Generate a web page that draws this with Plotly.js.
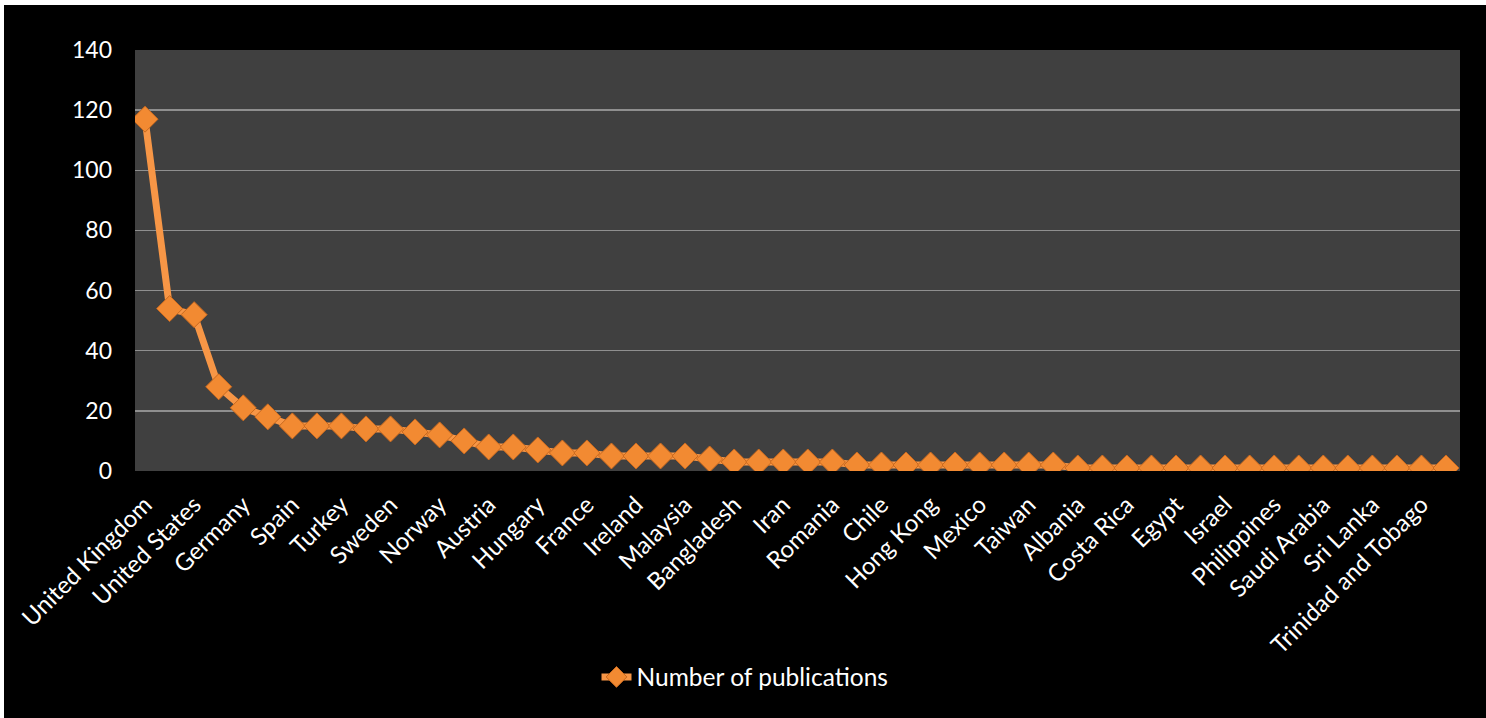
<!DOCTYPE html>
<html>
<head>
<meta charset="utf-8">
<script src="https://cdn.plot.ly/plotly-3.0.1.min.js"></script>
<style>
  html, body { margin: 0; padding: 0; background: #ffffff; }
  #chart { position: absolute; left: 4px; top: 5px; width: 1482px; height: 713px; }
</style>
</head>
<body>
<div id="chart"></div>
<script>
// Categories (every other one is labelled on the axis, as in the reference)
const countries = [
  "United Kingdom", "Australia", "United States", "Canada", "Germany", "Italy",
  "Spain", "Netherlands", "Turkey", "China", "Sweden", "Portugal",
  "Norway", "Finland", "Austria", "Belgium", "Hungary", "Brazil",
  "France", "Switzerland", "Ireland", "South Africa", "Malaysia", "Poland",
  "Bangladesh", "Denmark", "Iran", "Japan", "Romania", "Greece",
  "Chile", "Croatia", "Hong Kong", "India", "Mexico", "Pakistan",
  "Taiwan", "Thailand", "Albania", "Colombia", "Costa Rica", "Cyprus",
  "Egypt", "Ghana", "Israel", "Nigeria", "Philippines", "Qatar",
  "Saudi Arabia", "Singapore", "Sri Lanka", "Tanzania", "Trinidad and Tobago", "Uganda"
];
const publications = [
  117, 54, 52, 28, 21, 18,
  15, 15, 15, 14, 14, 13,
  12, 10, 8, 8, 7, 6,
  6, 5, 5, 5, 5, 4,
  3, 3, 3, 3, 3, 2,
  2, 2, 2, 2, 2, 2,
  2, 2, 1, 1, 1, 1,
  1, 1, 1, 1, 1, 1,
  1, 1, 1, 1, 1, 1
];
const tickLabels = countries.filter((c, i) => i % 2 === 0);
const seriesName = "Number of publications";
const yTicks = [0, 20, 40, 60, 80, 100, 120, 140];

const family = "Lato, 'Open Sans', sans-serif";
const font = { family: family, color: "#ffffff", size: 24 };

const trace = {
  type: "scatter",
  mode: "lines+markers",
  name: seriesName,
  x: countries,
  y: publications,
  line: { color: "#F79646", width: 7 },
  marker: {
    symbol: "diamond",
    size: 20,
    color: "#F28A32",
    line: { color: "#C8691F", width: 1 }
  }
};

const layout = {
  width: 1482,
  height: 713,
  paper_bgcolor: "#000000",
  plot_bgcolor: "#404040",
  margin: { l: 131, r: 26, t: 45, b: 247 },
  font: font,
  showlegend: true,
  legend: {
    orientation: "h",
    xref: "container", yref: "container",
    x: 0.5, xanchor: "center",
    y: 0.0575, yanchor: "middle",
    font: { family: family, color: "#ffffff", size: 24.5 },
    bgcolor: "rgba(0,0,0,0)"
  },
  xaxis: {
    type: "category",
    range: [-0.41, 53.57],
    tickmode: "array",
    tickvals: tickLabels,
    ticktext: tickLabels,
    tickangle: -45,
    showgrid: false,
    zeroline: false,
    showline: false,
    ticks: "",
    ticklabelstandoff: 14,
    tickfont: { family: family, color: "#ffffff", size: 24 }
  },
  yaxis: {
    range: [0, 140],
    tickmode: "array",
    tickvals: yTicks,
    ticktext: yTicks.map(String),
    showgrid: true,
    gridcolor: "#8f8f8f",
    gridwidth: 1.5,
    zeroline: false,
    showline: false,
    ticks: "",
    ticklabelstandoff: 22,
    tickfont: { family: family, color: "#ffffff", size: 23 }
  }
};

Plotly.newPlot("chart", [trace], layout, { displayModeBar: false, staticPlot: true });
</script>
</body>
</html>
